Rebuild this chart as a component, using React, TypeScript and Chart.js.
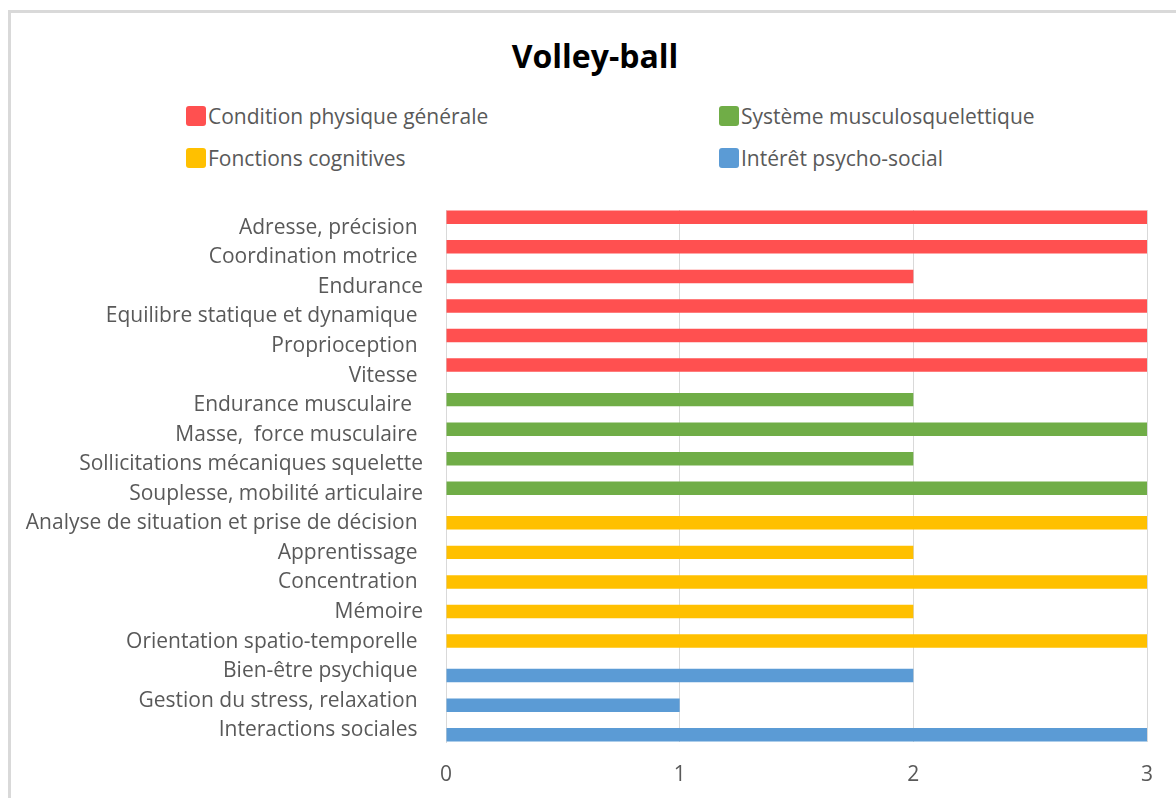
import React, { useEffect, useRef } from "react";
import { Chart, registerables } from "chart.js";

Chart.register(...registerables);

const title = "Volley-ball";

const categories = [
  "Adresse, précision ",
  "Coordination motrice ",
  "Endurance",
  "Equilibre statique et dynamique ",
  "Proprioception ",
  "Vitesse ",
  "Endurance musculaire  ",
  "Masse,  force musculaire ",
  "Sollicitations mécaniques squelette",
  "Souplesse, mobilité articulaire",
  "Analyse de situation et prise de décision ",
  "Apprentissage ",
  "Concentration ",
  "Mémoire",
  "Orientation spatio-temporelle ",
  "Bien-être psychique ",
  "Gestion du stress, relaxation ",
  "Interactions sociales ",
];

const seriesNames = [
  "Condition physique générale",
  "Système musculosquelettique",
  "Fonctions cognitives",
  "Intérêt psycho-social",
];
const seriesColors = ["#FF5050", "#70AD47", "#FFC000", "#5B9BD5"];

const physiqueValues = [3, 3, 2, 3, 3, 3];
const musculoValues = [2, 3, 2, 3];
const cognitivesValues = [3, 2, 3, 2, 3];
const psychoValues = [2, 1, 3];

const xTicks = [0, 1, 2, 3];

const FONT = "'Open Sans', sans-serif";
const TEXT = "#595959";

function buildSeries(): (number | null)[][] {
  const groups = [physiqueValues, musculoValues, cognitivesValues, psychoValues];
  let offset = 0;
  return groups.map((g) => {
    const arr: (number | null)[] = categories.map(() => null);
    g.forEach((v, i) => (arr[offset + i] = v));
    offset += g.length;
    return arr;
  });
}

export default function App() {
  const canvasRef = useRef<HTMLCanvasElement | null>(null);

  useEffect(() => {
    const series = buildSeries();
    const chart = new Chart(canvasRef.current as HTMLCanvasElement, {
      type: "bar",
      data: {
        labels: categories,
        datasets: series.map((d, i) => ({
          label: seriesNames[i],
          data: d,
          backgroundColor: seriesColors[i],
          borderWidth: 0,
          categoryPercentage: 0.675,
          barPercentage: 2.7,
        })),
      },
      options: {
        indexAxis: "y",
        responsive: false,
        animation: false,
        maintainAspectRatio: false,
        layout: { padding: { top: 210, left: 20, right: 29, bottom: 0 } },
        plugins: {
          legend: { display: false },
          title: { display: false },
          tooltip: { enabled: false },
        },
        scales: {
          x: {
            min: 0,
            max: 3,
            afterBuildTicks: (scale: any) => {
              scale.ticks = xTicks.map((v) => ({ value: v }));
            },
            afterFit: (scale: any) => {
              scale.height = 56;
            },
            grid: { color: "#D9D9D9", drawTicks: false, lineWidth: 1 },
            border: { display: false },
            ticks: {
              padding: 20,
              color: TEXT,
              font: { family: FONT, size: 21 },
            },
          },
          y: {
            afterFit: (scale: any) => {
              scale.width = 426;
            },
            grid: { display: false, drawTicks: false },
            border: { display: true, color: "#D9D9D9", width: 1 },
            ticks: {
              padding: 23,
              labelOffset: 3,
              color: TEXT,
              autoSkip: false,
              font: { family: FONT, size: 21 },
            },
          },
        },
      },
    });
    return () => chart.destroy();
  }, []);

  const legendPos = [
    { left: 186, top: 106 },
    { left: 719, top: 106 },
    { left: 186, top: 148 },
    { left: 719, top: 148 },
  ];

  return (
    <div style={{ position: "absolute", left: 0, top: 0, width: 1176, height: 798, overflow: "hidden", background: "#fff" }}>
      <div
        style={{
          position: "absolute",
          left: 8,
          top: 10,
          width: 1180,
          height: 800,
          border: "3px solid #D9D9D9",
          boxSizing: "border-box",
        }}
      />
      <div
        style={{
          position: "absolute",
          left: 395,
          width: 400,
          top: 35,
          textAlign: "center",
          fontFamily: FONT,
          fontWeight: 700,
          fontSize: 32,
          lineHeight: "42px",
          color: "#000",
        }}
      >
        {title}
      </div>
      {seriesNames.map((name, i) => (
        <div
          key={name}
          style={{
            position: "absolute",
            left: legendPos[i].left,
            top: legendPos[i].top,
            height: 20,
            display: "flex",
            alignItems: "center",
            fontFamily: FONT,
            fontSize: 21,
            color: TEXT,
            whiteSpace: "nowrap",
          }}
        >
          <span
            style={{
              display: "inline-block",
              width: 20,
              height: 20,
              borderRadius: 3,
              background: seriesColors[i],
              marginRight: 2,
              flex: "none",
            }}
          />
          {name}
        </div>
      ))}
      <canvas ref={canvasRef} width={1176} height={798} style={{ position: "absolute", left: 0, top: 0 }} />
    </div>
  );
}
